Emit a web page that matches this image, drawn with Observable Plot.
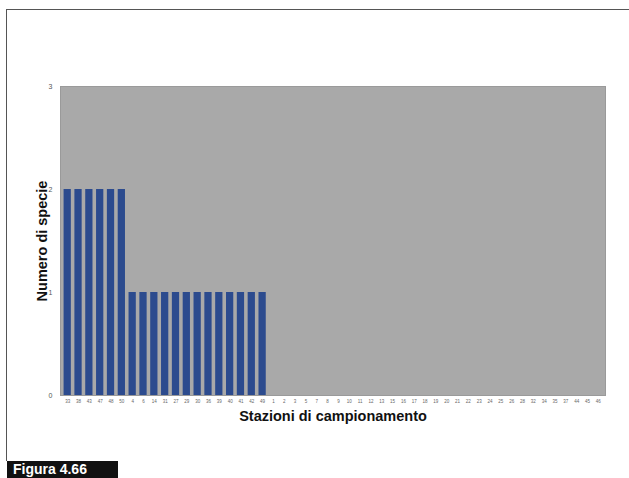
<!DOCTYPE html>
<html><head><meta charset="utf-8">
<script src="https://cdn.jsdelivr.net/npm/d3@7"></script>
<script src="https://cdn.jsdelivr.net/npm/@observablehq/plot@0.6"></script>
<style>
body{margin:0;background:#fff;font-family:"Liberation Sans",Arial,sans-serif;}
#wrap{position:relative;width:629px;height:478px;overflow:hidden;}
#topline{position:absolute;left:6px;top:9px;width:623px;height:1px;background:#555;}
#leftline{position:absolute;left:6px;top:9px;width:1px;height:452px;background:#555;}
#fig{position:absolute;left:7px;top:461px;width:111px;height:17px;background:#111;color:#fff;font:bold 14px "Liberation Sans",Arial,sans-serif;padding-left:6px;box-sizing:border-box;line-height:17px;}
#chart{position:absolute;left:0;top:0;}
</style></head>
<body><div id="wrap"><div id="chart"></div><div id="topline"></div><div id="leftline"></div><div id="fig">Figura 4.66</div></div>
<script>
const stations = ["33","38","43","47","48","50","4","6","14","31","27","29","30","36","39","40","41","42","49","1","2","3","5","7","8","9","10","11","12","13","15","16","17","18","19","20","21","22","23","24","25","26","28","32","34","35","37","44","45","46"];
const species = [2,2,2,2,2,2,1,1,1,1,1,1,1,1,1,1,1,1,1,0,0,0,0,0,0,0,0,0,0,0,0,0,0,0,0,0,0,0,0,0,0,0,0,0,0,0,0,0,0,0];
const yTicks = [0,1,2,3];
const data = stations.map((s,i)=>({station:s, n:species[i]}));
const chart = Plot.plot({
  width:629, height:478,
  marginLeft:60, marginRight:24, marginTop:86, marginBottom:83,
  style:{fontFamily:"Liberation Sans, Arial, sans-serif", background:"transparent"},
  x:{domain:stations, padding:0.33, label:"Stazioni di campionamento"},
  y:{domain:[0,3], ticks:yTicks, label:"Numero di specie"},
  marks:[
    Plot.frame({fill:"#a9a9a9", stroke:"#9a9a9a"}),
    Plot.barY(data,{x:"station", y:"n", fill:"#2c4b8e"}),
    Plot.axisX({tickSize:0, tickPadding:4, fontSize:4.5, fill:"#666", label:null}),
    Plot.axisY({ticks:yTicks, tickFormat:"d", tickSize:0, tickPadding:8, fontSize:7, fill:"#555", label:null}),
    Plot.text(["Stazioni di campionamento"],{frameAnchor:"bottom", dy:25, fontSize:14.5, fontWeight:"bold", fill:"#111"}),
    Plot.text(["Numero di specie"],{frameAnchor:"left", dx:-18, rotate:-90, textAnchor:"middle", fontSize:14.5, fontWeight:"bold", fill:"#111"})
  ]
});
document.getElementById("chart").appendChild(chart);
</script></body></html>
